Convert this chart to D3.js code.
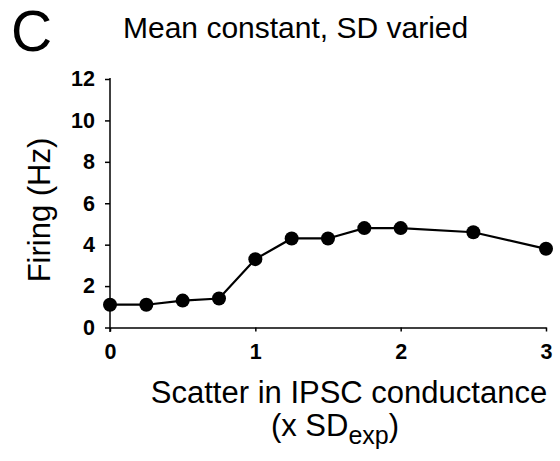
<!DOCTYPE html>
<html><head><meta charset="utf-8">
<script src="https://cdn.jsdelivr.net/npm/d3@7"></script>
<style>body{margin:0;background:#fff}svg{display:block;font-family:"Liberation Sans",Arial,sans-serif}</style>
</head><body>
<svg id="c" width="560" height="461"></svg>
<script>
const sdMultiples = [0, 0.25, 0.5, 0.75, 1.0, 1.25, 1.5, 1.75, 2.0, 2.5, 3.0];
const firingHz = [1.1, 1.1, 1.3, 1.4, 3.3, 4.3, 4.3, 4.8, 4.8, 4.6, 3.8];
const xTicks = [0, 1, 2, 3];
const yTicks = [0, 2, 4, 6, 8, 10, 12];

const svg = d3.select("#c");
const x = d3.scaleLinear().domain([0, 3]).range([110, 546]);
const y = d3.scaleLinear().domain([0, 12]).range([327.5, 79]);

// y axis
const ya = svg.append("g").attr("transform", "translate(110,0)")
  .call(d3.axisLeft(y).tickValues(yTicks).tickSize(5).tickSizeOuter(0).tickPadding(10));
ya.select(".domain").attr("stroke", "#000").attr("stroke-width", 1.5).attr("d", "M0,78V332");
ya.selectAll(".tick line").attr("stroke-width", 1.5);
ya.selectAll("text").attr("font-size", 21.5).attr("font-weight", "bold").attr("fill", "#000")
  .attr("font-family", "Liberation Sans, Arial, sans-serif");

// x axis
const xa = svg.append("g").attr("transform", "translate(0,327.5)")
  .call(d3.axisBottom(x).tickValues(xTicks).tickSize(4).tickSizeOuter(0).tickPadding(12).tickFormat(d3.format("d")));
xa.select(".domain").attr("stroke-width", 1.5);
xa.selectAll(".tick line").attr("stroke-width", 1.5);
xa.selectAll("text").attr("font-size", 21.5).attr("font-weight", "bold").attr("fill", "#000")
  .attr("font-family", "Liberation Sans, Arial, sans-serif");

// line + markers
const pts = sdMultiples.map((d, i) => [d, firingHz[i]]);
svg.append("path").datum(pts)
  .attr("fill", "none").attr("stroke", "#000").attr("stroke-width", 2.2)
  .attr("d", d3.line().x(d => x(d[0])).y(d => y(d[1])));
svg.selectAll("circle.pt").data(pts).enter().append("circle")
  .attr("cx", d => x(d[0])).attr("cy", d => y(d[1])).attr("r", 7).attr("fill", "#000");

// texts
svg.append("text").attr("x", 11).attr("y", 51).attr("font-size", 57).text("C");
svg.append("text").attr("x", 123).attr("y", 38).attr("font-size", 30).text("Mean constant, SD varied");
svg.append("text").attr("transform", "translate(50,210) rotate(-90)").attr("text-anchor", "middle")
  .attr("font-size", 31).text("Firing (Hz)");
svg.append("text").attr("x", 349).attr("y", 403).attr("text-anchor", "middle")
  .attr("font-size", 31).text("Scatter in IPSC conductance");
const t2 = svg.append("text").attr("x", 335).attr("y", 436).attr("text-anchor", "middle").attr("font-size", 31);
t2.append("tspan").text("(x SD");
t2.append("tspan").attr("font-size", 25).attr("dy", 8).text("exp");
t2.append("tspan").attr("dy", -8).text(")");
</script>
</body></html>
